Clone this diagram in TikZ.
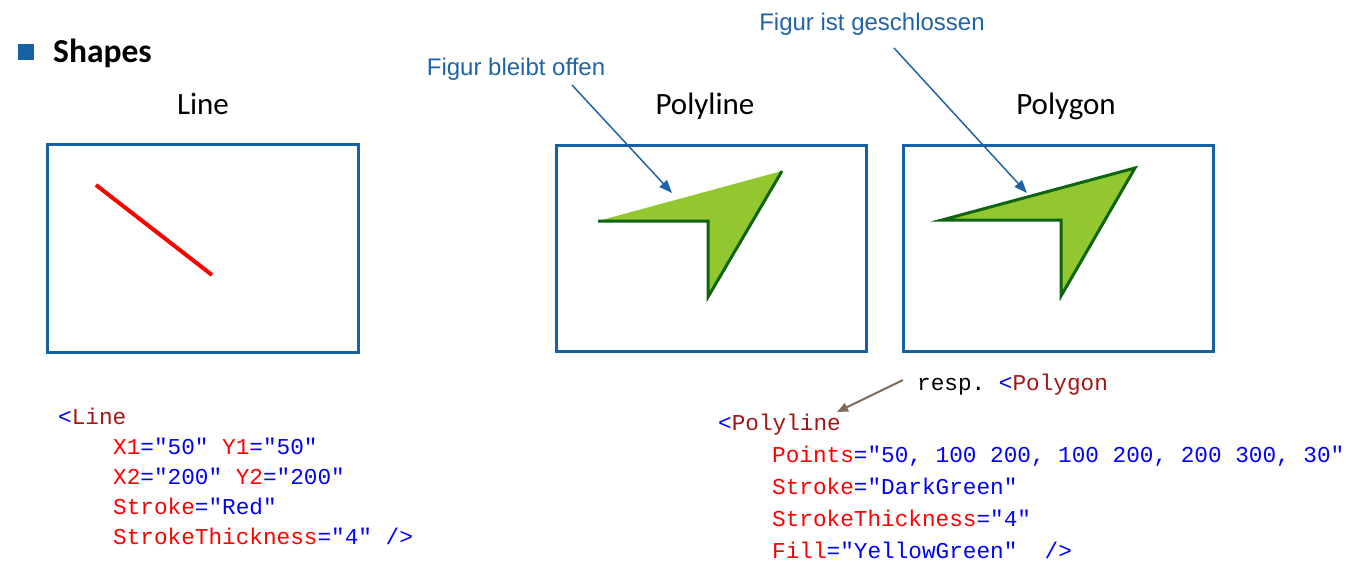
\documentclass[tikz,border=0pt]{standalone}
\usepackage{fontspec}
\setmainfont{Carlito}
\newfontfamily\annofont{Liberation Sans}
\newfontfamily\codefont{Liberation Mono}
\usetikzlibrary{arrows.meta}

\definecolor{frameblue}{HTML}{1660A4}
\definecolor{annoblue}{HTML}{1F64A8}
\definecolor{tagblue}{HTML}{0000FF}
\definecolor{tagred}{HTML}{A31515}
\definecolor{attrred}{HTML}{FF0000}
\definecolor{valblue}{HTML}{0000FF}
\definecolor{lineGreenFill}{HTML}{92C72F}
\definecolor{lineGreenStroke}{HTML}{0F6410}
\definecolor{notebrown}{HTML}{7C6B58}

% XAML colouring helpers
\newcommand\xtag[1]{\textcolor{tagblue}{<}\textcolor{tagred}{#1}}
\newcommand\xattr[2]{\textcolor{attrred}{#1}\textcolor{valblue}{="#2"}}
\newcommand\xclose{\textcolor{valblue}{/>}}

\tikzset{
  frame/.style={draw=frameblue, line width=3pt},
  title/.style={font=\fontsize{31}{31}\selectfont, anchor=base, inner sep=0pt},
  anno/.style={font=\annofont\fontsize{24}{24}\selectfont, text=annoblue, anchor=base, inner sep=0pt},
  annoarrow/.style={draw=annoblue, line width=1.5pt, -{Triangle[length=13pt,width=10pt]}},
  code/.style={font=\codefont\fontsize{22.7}{24}\selectfont\frenchspacing, anchor=base west, inner sep=0pt},
  shapestroke/.style={draw=lineGreenStroke, line width=3pt, line join=miter},
}

\begin{document}
\begin{tikzpicture}[x=1pt, y=-1pt]
\useasboundingbox (0,0) rectangle (1358,571);

% heading
\fill[frameblue] (18,44) rectangle (34,60);
\node[anchor=base west, inner sep=0pt, font=\bfseries\fontsize{33.5}{34}\selectfont] (head) at (53,62) {Shapes};

% titles
\node[title] (tline) at (203,114) {Line};
\node[title] (tpolyline) at (705,114) {Polyline};
\node[title] (tpolygon) at (1066,114) {Polygon};

% frames
\draw[frame] (47,144) rectangle (358,352);
\draw[frame] (556,145) rectangle (866,351);
\draw[frame] (903,145) rectangle (1213,351);

% Line
\coordinate (la) at (96,185);
\coordinate (lb) at (212,275);
\draw[red, line width=4pt] (la) -- (lb);

% Polyline: filled, but the outline stays open
\coordinate (pa) at (598,221);
\coordinate (pb) at (708,221);
\coordinate (pc) at (708,297);
\coordinate (pd) at (782,171);
\fill[lineGreenFill] (pa) -- (pb) -- (pc) -- (pd) -- cycle;
\draw[shapestroke] (pa) -- (pb) -- (pc) -- (pd);

% Polygon: closed outline
\coordinate (qa) at (942,220);
\coordinate (qb) at (1061,220);
\coordinate (qc) at (1061,296);
\coordinate (qd) at (1135,168);
\filldraw[fill=lineGreenFill, shapestroke] (qa) -- (qb) -- (qc) -- (qd) -- cycle;

% annotations
\node[anno] (open) at (516,75) {Figur bleibt offen};
\node[anno] (closed) at (872,30) {Figur ist geschlossen};
\coordinate (openfrom) at (572,85);
\coordinate (opento) at (672,193);
\coordinate (closedfrom) at (894,48);
\coordinate (closedto) at (1027,193);
\draw[annoarrow] (openfrom) -- (opento);
\draw[annoarrow] (closedfrom) -- (closedto);

% Line markup
\node[code] (l0) at (58,424) {\xtag{Line}};
\node[code] (l1) at (113,454) {\xattr{X1}{50} \xattr{Y1}{50}};
\node[code] (l2) at (113,484) {\xattr{X2}{200} \xattr{Y2}{200}};
\node[code] (l3) at (113,514) {\xattr{Stroke}{Red}};
\node[code] (l4) at (113,544) {\xattr{StrokeThickness}{4} \xclose};

% Polyline markup
\node[code] (resp) at (917,390) {resp.\ \xtag{Polygon}};
\node[code] (p0) at (718,430) {\xtag{Polyline}};
\node[code] (p1) at (772,462) {\xattr{Points}{50, 100 200, 100 200, 200 300, 30}};
\node[code] (p2) at (772,494) {\xattr{Stroke}{DarkGreen}};
\node[code] (p3) at (772,526) {\xattr{StrokeThickness}{4}};
\node[code] (p4) at (772,558) {\xattr{Fill}{YellowGreen}~~\xclose};

\coordinate (respfrom) at (903,380);
\coordinate (respto) at (837,412);
\draw[draw=notebrown, line width=2pt, -{Triangle[length=11pt,width=9pt]}] (respfrom) -- (respto);
\end{tikzpicture}
\end{document}
